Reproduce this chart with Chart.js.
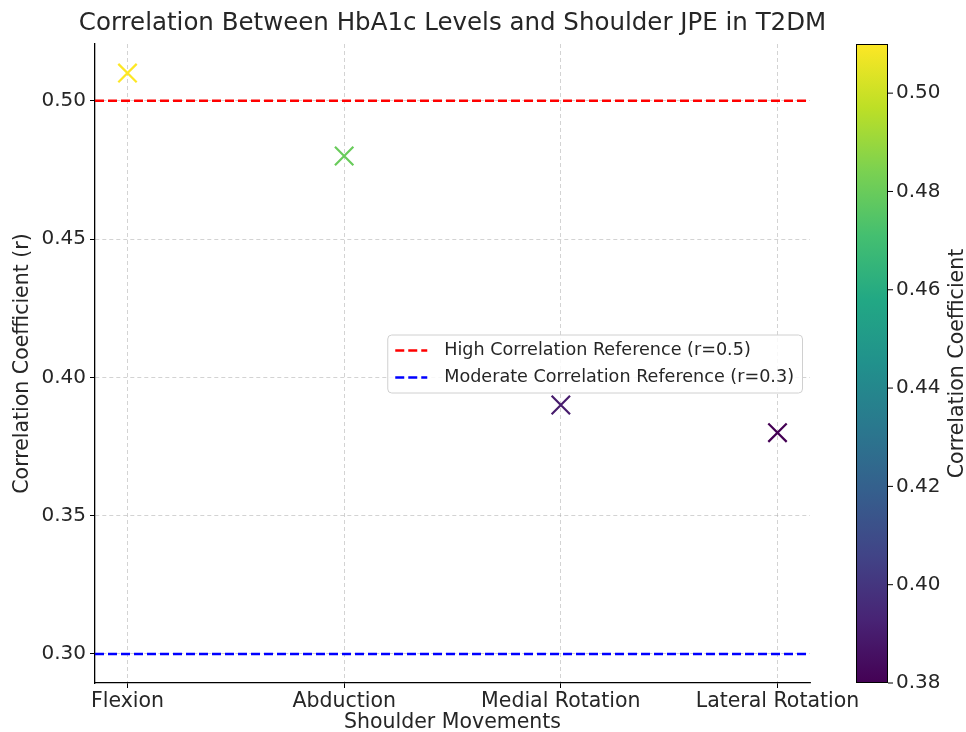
<!DOCTYPE html>
<html>
<head>
<meta charset="utf-8">
<script src="https://cdn.jsdelivr.net/npm/chart.js@4.4.1/dist/chart.umd.min.js"></script>
<style>
  html, body { margin: 0; padding: 0; background: #fff; }
  #wrap { width: 966px; height: 732px; }
</style>
</head>
<body>
<div id="wrap"><canvas id="corrChart" width="966" height="732"></canvas></div>
<script>
// data
const categories = ['Flexion', 'Abduction', 'Medial Rotation', 'Lateral Rotation']
const correlations = [0.51, 0.48, 0.39, 0.38]
const highRef = 0.5
const moderateRef = 0.3
const yTicks = [0.30, 0.35, 0.40, 0.45, 0.50]
const cbTicks = [0.38, 0.40, 0.42, 0.44, 0.46, 0.48, 0.50]
const cbMin = 0.38
const cbMax = 0.51

const FONT = "'DejaVu Sans', sans-serif"
const TEXT = '#262626'

// viridis stops
const viridis = ['#440154', '#482475', '#414487', '#355f8d', '#2a788e',
  '#21918c', '#22a884', '#44bf70', '#7ad151', '#bddf26', '#fde725']

function hex2rgb(h) {
  return [parseInt(h.substr(1, 2), 16), parseInt(h.substr(3, 2), 16), parseInt(h.substr(5, 2), 16)]
}
function viridisColor(v) {
  let t = (v - cbMin) / (cbMax - cbMin)
  t = Math.max(0, Math.min(1, t))
  const p = t * (viridis.length - 1)
  const i = Math.min(Math.floor(p), viridis.length - 2)
  const f = p - i
  const a = hex2rgb(viridis[i]), b = hex2rgb(viridis[i + 1])
  const c = a.map((x, k) => Math.round(x + (b[k] - x) * f))
  return 'rgb(' + c.join(',') + ')'
}

const xMin = -0.15, xMax = categories.length - 1 + 0.15
const yMin = 0.2895, yMax = 0.5205

const points = correlations.map((v, i) => ({ x: i, y: v }))
const pointColors = correlations.map(v => viridisColor(v))

// title, colorbar and legend drawn by hand
const extras = {
  id: 'extras',
  afterDraw(chart) {
    const ctx = chart.ctx
    const area = chart.chartArea
    ctx.save()

    // title
    ctx.fillStyle = TEXT
    ctx.font = '24.5px ' + FONT
    ctx.textAlign = 'center'
    ctx.textBaseline = 'middle'
    ctx.fillText('Correlation Between HbA1c Levels and Shoulder JPE in T2DM', (area.left + area.right) / 2, 24)

    // colorbar
    const cbL = 856, cbR = 888
    const cbTop = area.top, cbBot = area.bottom
    const grad = ctx.createLinearGradient(0, cbBot, 0, cbTop)
    viridis.forEach((c, i) => grad.addColorStop(i / (viridis.length - 1), c))
    ctx.fillStyle = grad
    ctx.fillRect(cbL, cbTop, cbR - cbL, cbBot - cbTop)
    ctx.strokeStyle = '#000'
    ctx.lineWidth = 1
    ctx.strokeRect(cbL + 0.5, cbTop + 0.5, cbR - cbL - 1, cbBot - cbTop - 1)
    ctx.font = '20px ' + FONT
    ctx.textAlign = 'left'
    ctx.fillStyle = TEXT
    cbTicks.forEach(t => {
      const y = cbBot - (t - cbMin) / (cbMax - cbMin) * (cbBot - cbTop)
      ctx.beginPath()
      ctx.moveTo(cbR, y)
      ctx.lineTo(cbR + 5, y)
      ctx.stroke()
      ctx.fillText(t.toFixed(2), cbR + 8, y)
    })
    ctx.save()
    ctx.translate(958, (cbTop + cbBot) / 2)
    ctx.rotate(-Math.PI / 2)
    ctx.textAlign = 'center'
    ctx.font = '20.5px ' + FONT
    ctx.fillText('Correlation Coefficient', 0, 0)
    ctx.restore()

    // legend
    const refSets = chart.data.datasets.filter(d => d.type === 'line')
    ctx.font = '17.6px ' + FONT
    const textW = Math.max(...refSets.map(d => ctx.measureText(d.label).width))
    const boxW = 57 + textW + 8
    const boxH = 58
    const bx = area.right - 8 - boxW
    const by = (area.top + area.bottom) / 2 - boxH / 2
    ctx.fillStyle = 'rgba(255,255,255,0.85)'
    ctx.strokeStyle = '#d0d0d0'
    ctx.lineWidth = 1
    ctx.beginPath()
    ctx.roundRect(bx + 0.5, by + 0.5, boxW, boxH, 4)
    ctx.fill()
    ctx.stroke()
    refSets.forEach((d, i) => {
      const y = by + 16 + i * 27
      ctx.strokeStyle = d.borderColor
      ctx.lineWidth = 2.5
      ctx.setLineDash(d.borderDash)
      ctx.beginPath()
      ctx.moveTo(bx + 8, y)
      ctx.lineTo(bx + 40, y)
      ctx.stroke()
      ctx.setLineDash([])
      ctx.fillStyle = TEXT
      ctx.textAlign = 'left'
      ctx.fillText(d.label, bx + 57, y)
    })
    ctx.restore()
  }
}

const gridStyle = {
  color: 'rgba(176,176,176,0.7)',
  lineWidth: 0.8,
  tickBorderDash: [],
  tickColor: '#000',
  tickLength: 5,
  tickWidth: 1
}

const corrChart = new Chart(document.getElementById('corrChart').getContext('2d'), {
  type: 'scatter',
  data: {
    datasets: [{
      label: 'Correlation',
      data: points,
      pointStyle: 'crossRot',
      pointRadius: 13,
      pointHoverRadius: 13,
      pointBorderWidth: 2.2,
      borderColor: pointColors,
      backgroundColor: pointColors,
      order: 0
    },
    {
      type: 'line',
      label: 'High Correlation Reference (r=0.5)',
      data: [{ x: xMin, y: highRef }, { x: xMax, y: highRef }],
      borderColor: '#ff0000',
      borderWidth: 2.5,
      borderDash: [9, 4],
      pointRadius: 0,
      order: 1
    },
    {
      type: 'line',
      label: 'Moderate Correlation Reference (r=0.3)',
      data: [{ x: xMin, y: moderateRef }, { x: xMax, y: moderateRef }],
      borderColor: '#0000ff',
      borderWidth: 2.5,
      borderDash: [9, 4],
      pointRadius: 0,
      order: 1
    }]
  },
  options: {
    responsive: false,
    animation: false,
    layout: { padding: { left: 0, right: 156, top: 44, bottom: 0 } },
    scales: {
      x: {
        type: 'linear',
        min: xMin,
        max: xMax,
        afterBuildTicks: s => { s.ticks = categories.map((c, i) => ({ value: i })) },
        afterFit: s => { s.height = 49 },
        ticks: {
          callback: v => categories[v],
          color: TEXT,
          font: { family: FONT, size: 20.5 },
          padding: 1,
          maxRotation: 0
        },
        grid: gridStyle,
        border: { color: '#000', width: 1.3, dash: [4, 3] },
        title: {
          display: true,
          text: 'Shoulder Movements',
          color: TEXT,
          font: { family: FONT, size: 20.5, lineHeight: 1 },
          padding: { top: 0, bottom: -1 }
        }
      },
      y: {
        min: yMin,
        max: yMax,
        afterBuildTicks: s => { s.ticks = yTicks.map(v => ({ value: v })) },
        afterFit: s => { s.width = 95 },
        ticks: {
          callback: v => v.toFixed(2),
          color: TEXT,
          font: { family: FONT, size: 20 },
          padding: 4
        },
        grid: gridStyle,
        border: { color: '#000', width: 1.3, dash: [4, 3] },
        title: {
          display: true,
          text: 'Correlation Coefficient (r)',
          color: TEXT,
          font: { family: FONT, size: 20.5 },
          padding: { top: 10, bottom: 0 }
        }
      }
    },
    plugins: {
      legend: { display: false },
      title: { display: false },
      tooltip: { enabled: false }
    }
  },
  plugins: [extras]
})
</script>
</body>
</html>
